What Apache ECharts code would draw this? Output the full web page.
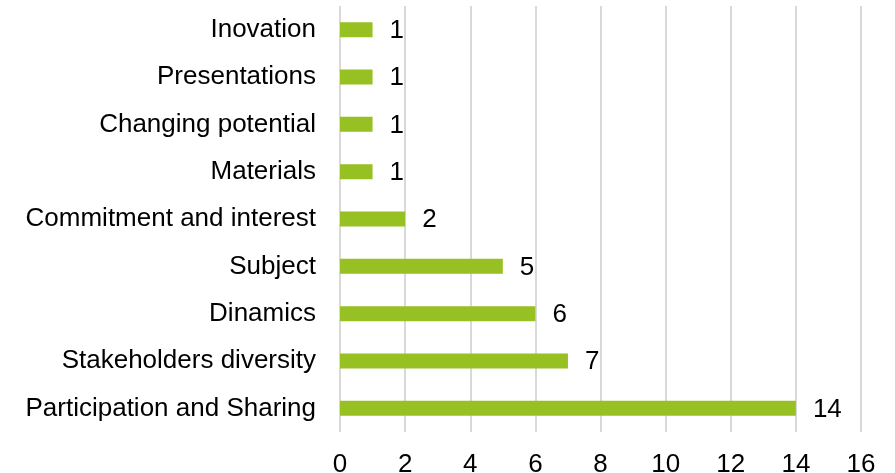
<!DOCTYPE html>
<html>
<head>
<meta charset="utf-8">
<script src="https://cdn.jsdelivr.net/npm/echarts@6/dist/echarts.min.js"></script>
<style>
  html, body { margin: 0; padding: 0; background: #fff; }
  #chart { width: 895px; height: 473px; }
</style>
</head>
<body>
<div id="chart"></div>
<script>
// categories bottom -> top (as echarts category y axis)
const categories = [
  "Participation and Sharing",
  "Stakeholders diversity",
  "Dinamics",
  "Subject",
  "Commitment and interest",
  "Materials",
  "Changing potential",
  "Presentations",
  "Inovation"
];
const counts = [14, 7, 6, 5, 2, 1, 1, 1, 1];
const xTicks = [0, 16, 2]; // min, max, interval

const chart = echarts.init(document.getElementById("chart"));
const font = "Liberation Sans, Arial, sans-serif";

chart.setOption({
  animation: false,
  grid: {
    left: 340, right: 34, top: 6, bottom: 41,
    containLabel: false,
    outerBoundsMode: "none"
  },
  xAxis: {
    type: "value",
    min: xTicks[0],
    max: xTicks[1],
    interval: xTicks[2],
    axisLine: { show: false },
    axisTick: { show: false },
    splitLine: { lineStyle: { color: "#d9d9d9", width: 2 } },
    axisLabel: { color: "#000", fontSize: 26, fontFamily: font, margin: 20 }
  },
  yAxis: {
    type: "category",
    data: categories,
    axisLine: { show: false },
    axisTick: { show: false },
    axisLabel: { color: "#000", fontSize: 26, fontFamily: font, margin: 24 }
  },
  series: [{
    type: "bar",
    data: counts,
    barWidth: 15,
    itemStyle: { color: "#97c023" },
    label: {
      show: true,
      position: "right",
      distance: 17,
      color: "#000",
      fontSize: 26,
      fontFamily: font,
      offset: [0, 1]
    }
  }]
});
</script>
</body>
</html>
